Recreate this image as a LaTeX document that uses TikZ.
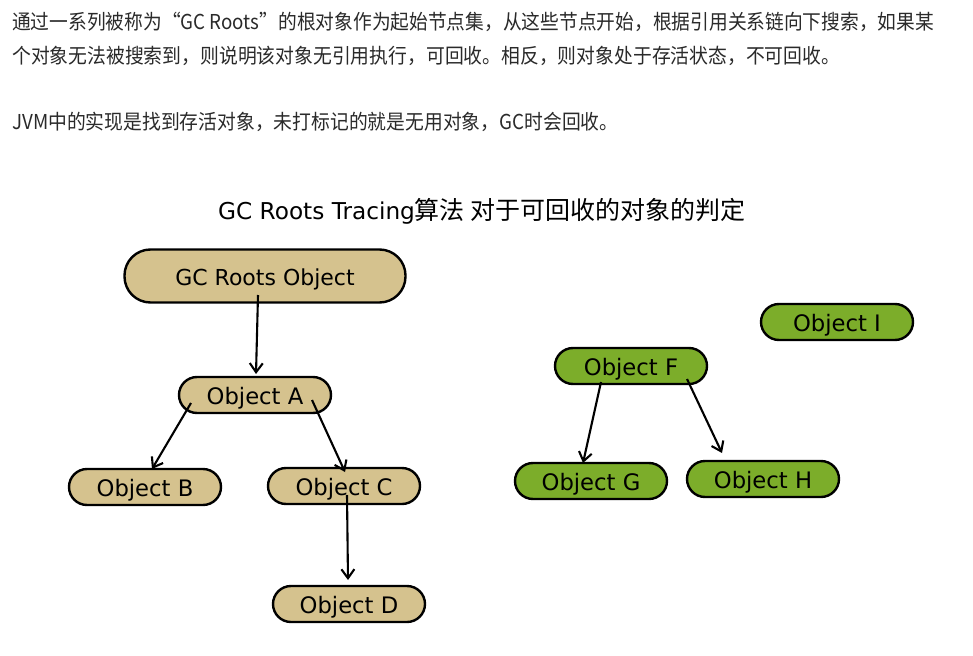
\documentclass[tikz,border=0pt]{standalone}
\usepackage{fontspec}
\setmainfont{DejaVu Sans}
\newfontfamily\lab{DejaVu Sans}
\newfontfamily\cjk{Noto Sans CJK SC}
\usetikzlibrary{arrows.meta,calc}
\definecolor{tanfill}{HTML}{D5C28E}
\definecolor{greenfill}{HTML}{7CAD2A}
\definecolor{bodytext}{HTML}{2A2A2A}
\begin{document}
\begin{tikzpicture}[x=1pt,y=-1pt,
  objbox/.style={draw=black,line width=2.4pt,rounded corners=18pt,
    minimum width=152pt,minimum height=36pt,inner sep=0pt,
    text height=19.5pt,text depth=0pt,
    font=\lab\fontsize{22.7}{24}\selectfont},
  tanobj/.style={objbox,fill=tanfill},
  greenobj/.style={objbox,fill=greenfill},
  arr/.style={line width=2.1pt,-{Straight Barb[length=9pt,width=13pt,line width=2.1pt]}},
  bodyline/.style={anchor=base west,inner sep=0pt,text=bodytext,
    font=\cjk\fontsize{20.5}{24}\selectfont}]
\useasboundingbox[fill=white] (0,0) rectangle (973,655);

% body text
\node[bodyline] (t1) at (12,30) {\scalebox{0.914}[1]{通过一系列被称为“GC Roots”的根对象作为起始节点集，从这些节点开始，根据引用关系链向下搜索，如果某}};
\node[bodyline] (t2) at (12,64) {\scalebox{0.918}[1]{个对象无法被搜索到，则说明该对象无引用执行，可回收。相反，则对象处于存活状态，不可回收。}};
\node[bodyline] (t3) at (12,130) {\scalebox{0.917}[1]{JVM中的实现是找到存活对象，未打标记的就是无用对象，GC时会回收。}};

% title
\node[anchor=base west,inner sep=0pt] (title) at (218,219)
  {{\lab\fontsize{23.2}{26}\selectfont GC Roots Tracing}{\cjk\fontsize{25}{28}\selectfont 算法 对于可回收的对象的判定}};

% nodes
\node[tanobj,minimum width=281pt,minimum height=53pt,rounded corners=26pt,
  text height=18.5pt,font=\lab\fontsize{22}{24}\selectfont] (root) at (265,276) {GC Roots Object};
\node[tanobj] (A) at (255,395) {Object A};
\node[tanobj] (B) at (145,487) {Object B};
\node[tanobj] (C) at (344,486) {Object C};
\node[tanobj] (D) at (349,604) {Object D};

\node[greenobj] (I) at (837,322) {Object I};
\node[greenobj] (F) at (631,366) {Object F};
\node[greenobj] (G) at (591,481) {Object G};
\node[greenobj] (H) at (763,479) {Object H};

% connectors
\draw[arr] ($(root)+(-7,19)$) -- ($(A)+(1,-21)$);
\draw[arr] ($(A)+(-64,8)$) -- ($(B)+(7,-18)$);
\draw[arr] ($(A)+(57,5)$) -- ($(C)+(1,-14)$);
\draw[arr] ($(C)+(3,9)$) -- ($(D)+(-1,-24)$);
\draw[arr] ($(F)+(-30,16)$) -- ($(G)+(-8,-18)$);
\draw[arr] ($(F)+(56,13)$) -- ($(H)+(-41,-26)$);
\end{tikzpicture}
\end{document}
